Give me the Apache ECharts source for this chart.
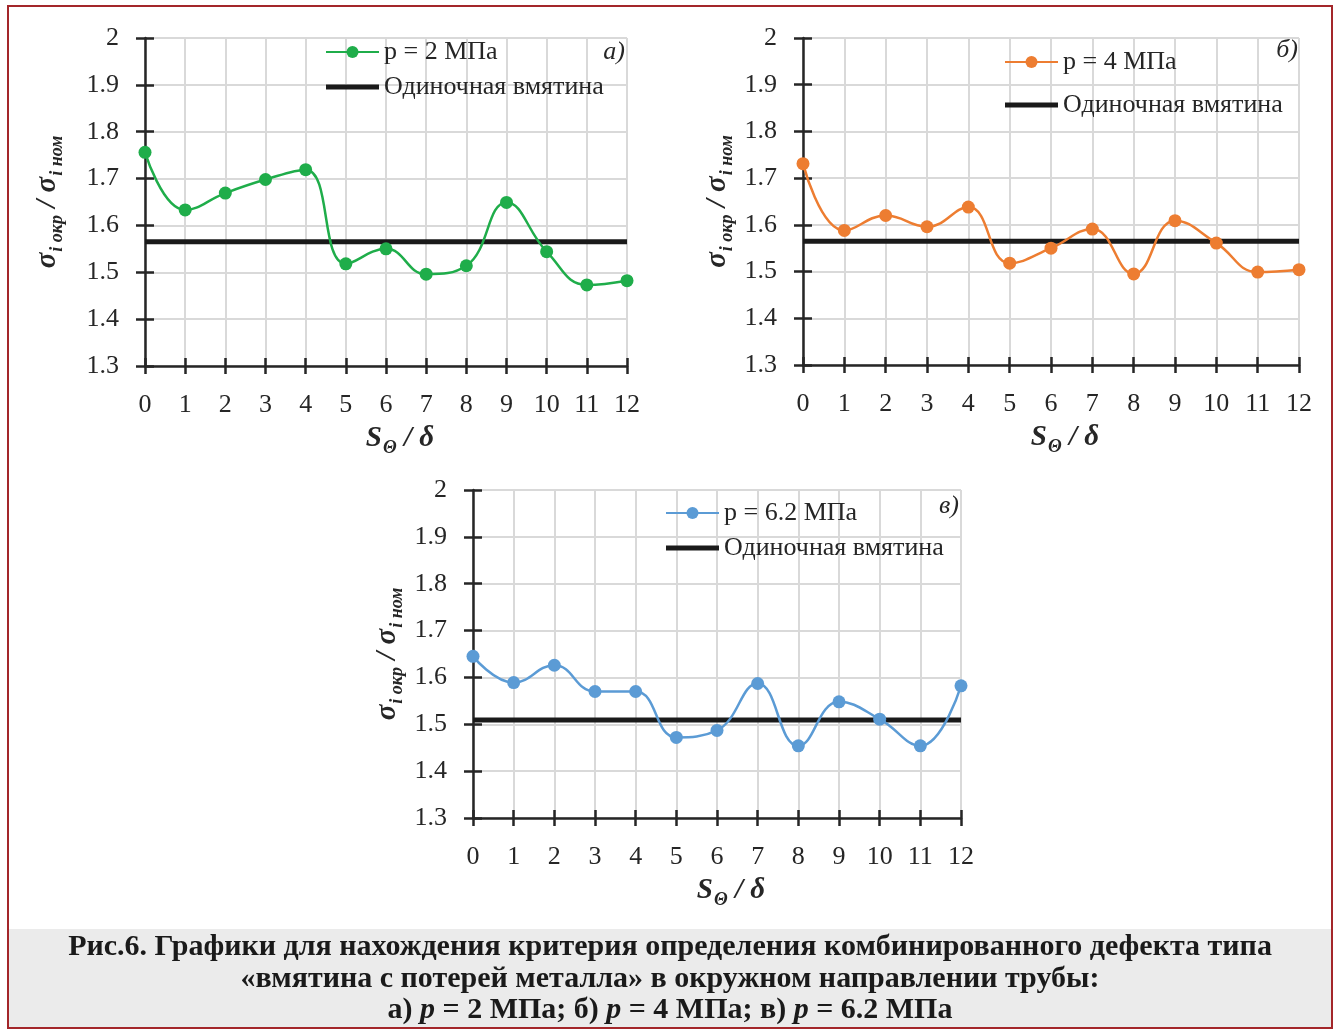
<!DOCTYPE html>
<html><head><meta charset="utf-8">
<script src="https://cdn.jsdelivr.net/npm/echarts@6/dist/echarts.min.js"></script>
<style>html,body{margin:0;padding:0;background:#fff}#c{width:1341px;height:1030px}</style>
</head><body><div id="c"></div>
<script>
// ---------- data ----------
const xValues = [0, 1, 2, 3, 4, 5, 6, 7, 8, 9, 10, 11, 12];
const seriesA = [1.756, 1.633, 1.669, 1.698, 1.719, 1.518, 1.550, 1.496, 1.514, 1.649, 1.544, 1.473, 1.482];
const seriesB = [1.731, 1.588, 1.620, 1.596, 1.638, 1.518, 1.550, 1.591, 1.495, 1.609, 1.561, 1.499, 1.504];
const seriesC = [1.645, 1.589, 1.626, 1.570, 1.570, 1.472, 1.487, 1.587, 1.454, 1.548, 1.511, 1.454, 1.582];
const singleDent = [1.565, 1.565, 1.509];
const seriesNames = ['p = 2 МПа', 'p = 4 МПа', 'p = 6.2 МПа'];
const dentName = 'Одиночная вмятина';
const panelLabels = ['а)', 'б)', 'в)'];
const yTicks = [1.3, 1.4, 1.5, 1.6, 1.7, 1.8, 1.9, 2];
const captionLine1 = 'Рис.6. Графики для нахождения критерия определения комбинированного дефекта типа';
const captionLine2 = '«вмятина с потерей металла» в окружном направлении трубы:';
const captionLine3 = [['а) ', 'p', ' = 2 МПа; '], ['б) ', 'p', ' = 4 МПа; '], ['в) ', 'p', ' = 6.2 МПа']];

// ---------- layout / style ----------
const FONT = 'Liberation Serif';
const TXT = '#262626';
const colors = ['#1fad4a', '#ed7d31', '#5b9bd5'];
const allSeries = [seriesA, seriesB, seriesC];
const grids = [
  {left: 145, top: 38, width: 482, height: 328},
  {left: 803, top: 38, width: 496, height: 327},
  {left: 473, top: 490, width: 488, height: 328}
];
const yNameGaps = [82, 70, 70];
const legendPos = [
  {left: 325, top: 39, gap: 9},
  {left: 1004, top: 49, gap: 17},
  {left: 665, top: 500, gap: 9}
];
const labelPos = [[625, 52], [1298, 50], [959, 506]];

const nameRich = {
  s: {fontFamily: FONT, fontSize: 29, fontWeight: 'bold', fontStyle: 'italic', color: TXT, lineHeight: 30, verticalAlign: 'top'},
  sub: {fontFamily: FONT, fontSize: 18, fontWeight: 'bold', fontStyle: 'italic', color: TXT, lineHeight: 18, padding: [15, 0, 0, 1], verticalAlign: 'top'}
};

const xAxes = [], yAxes = [], series = [], legends = [], graphics = [];
grids.forEach((g, i) => {
  xAxes.push({
    type: 'value', gridIndex: i, min: xValues[0], max: xValues[xValues.length - 1], interval: 1, position: 'bottom',
    axisLine: {onZero: false, lineStyle: {color: TXT, width: 2.5}},
    axisTick: {show: true, length: 8, lineStyle: {color: TXT, width: 2.5}},
    axisLabel: {fontFamily: FONT, fontSize: 26, color: TXT, margin: 26},
    splitLine: {show: true, lineStyle: {color: '#d9d9d9', width: 2}},
    name: '{s|S}{sub|Θ}{s| / δ}', nameLocation: 'middle', nameGap: 58,
    nameTextStyle: {rich: nameRich, padding: [0, 0, 0, 28]}
  });
  yAxes.push({
    type: 'value', gridIndex: i, min: yTicks[0], max: yTicks[yTicks.length - 1], interval: 0.1, position: 'left',
    axisLine: {onZero: false, lineStyle: {color: TXT, width: 2.5}},
    axisTick: {show: true, length: 9, lineStyle: {color: TXT, width: 2.5}},
    axisLabel: {fontFamily: FONT, fontSize: 26, color: TXT, margin: 26, formatter: v => String(Math.round(v * 10) / 10)},
    splitLine: {show: true, lineStyle: {color: '#d9d9d9', width: 2}},
    name: '{s|σ}{sub|i окр}{s| / σ}{sub|i ном}', nameLocation: 'middle', nameRotate: 90, nameGap: yNameGaps[i],
    nameTextStyle: {rich: nameRich}
  });
});
// inner halves of the crossing ticks
grids.forEach((g, i) => {
  xAxes.push({
    type: 'value', gridIndex: i, min: xValues[0], max: xValues[xValues.length - 1], interval: 1, position: 'bottom',
    axisLine: {show: false, onZero: false}, axisLabel: {show: false}, splitLine: {show: false},
    axisTick: {show: true, inside: true, length: 8, lineStyle: {color: TXT, width: 2.5}}
  });
  yAxes.push({
    type: 'value', gridIndex: i, min: yTicks[0], max: yTicks[yTicks.length - 1], interval: 0.1, position: 'left',
    axisLine: {show: false, onZero: false}, axisLabel: {show: false}, splitLine: {show: false},
    axisTick: {show: true, inside: true, length: 9, lineStyle: {color: TXT, width: 2.5}}
  });
});

grids.forEach((g, i) => {
  series.push({
    type: 'line', name: dentName, xAxisIndex: i, yAxisIndex: i,
    data: [[xValues[0], singleDent[i]], [xValues[xValues.length - 1], singleDent[i]]],
    symbol: 'none', lineStyle: {color: '#1a1a1a', width: 5}, itemStyle: {color: '#1a1a1a'},
    z: 3, silent: true, animation: false
  });
  series.push({
    type: 'line', name: seriesNames[i], xAxisIndex: i, yAxisIndex: i,
    data: xValues.map((x, k) => [x, allSeries[i][k]]),
    smooth: 0.45, symbol: 'circle', symbolSize: 13,
    lineStyle: {color: colors[i], width: 2.5}, itemStyle: {color: colors[i]},
    z: 4, animation: false
  });
  legends.push({
    orient: 'vertical', left: legendPos[i].left, top: legendPos[i].top, itemGap: legendPos[i].gap,
    itemWidth: 53, itemHeight: 15, padding: 0, symbolKeepAspect: true,
    data: [seriesNames[i], {name: dentName, icon: 'path://M0,0L106,0L106,10L0,10Z', itemStyle: {color: '#1a1a1a'}}],
    textStyle: {fontFamily: FONT, fontSize: 26, color: TXT},
    selectedMode: false
  });
  graphics.push({
    type: 'text', x: labelPos[i][0], y: labelPos[i][1],
    style: {text: panelLabels[i], font: 'italic 26px "' + FONT + '"', fill: TXT, textAlign: 'right', textVerticalAlign: 'middle'}
  });
});

// border and caption
graphics.push({type: 'rect', shape: {x: 9, y: 929, width: 1322, height: 99}, style: {fill: '#ebebeb'}, z: -1});
graphics.push({type: 'rect', shape: {x: 8, y: 6, width: 1324, height: 1022}, style: {fill: 'none', stroke: '#a3262a', lineWidth: 2}});
const capFont = 'bold 30px "' + FONT + '"';
graphics.push({type: 'text', x: 670, y: 947, style: {text: captionLine1, font: capFont, fill: '#1a1a1a', textAlign: 'center', textVerticalAlign: 'middle'}});
graphics.push({type: 'text', x: 670, y: 979, style: {text: captionLine2, font: capFont, fill: '#1a1a1a', textAlign: 'center', textVerticalAlign: 'middle'}});
const line3 = captionLine3.map(p => '{b|' + p[0] + '}{i|' + p[1] + '}{b|' + p[2] + '}').join('');
graphics.push({type: 'text', x: 670, y: 1010, style: {
  text: line3, textAlign: 'center', textVerticalAlign: 'middle', fill: '#1a1a1a',
  rich: {
    b: {fontFamily: FONT, fontSize: 30, fontWeight: 'bold', fill: '#1a1a1a'},
    i: {fontFamily: FONT, fontSize: 30, fontWeight: 'bold', fontStyle: 'italic', fill: '#1a1a1a'}
  }
}});

const chart = echarts.init(document.getElementById('c'));
chart.setOption({
  backgroundColor: '#ffffff',
  animation: false,
  grid: grids.map(g => Object.assign({outerBoundsMode: 'none', containLabel: false}, g)),
  xAxis: xAxes,
  yAxis: yAxes,
  legend: legends,
  series: series,
  graphic: graphics
});
</script>
</body></html>
